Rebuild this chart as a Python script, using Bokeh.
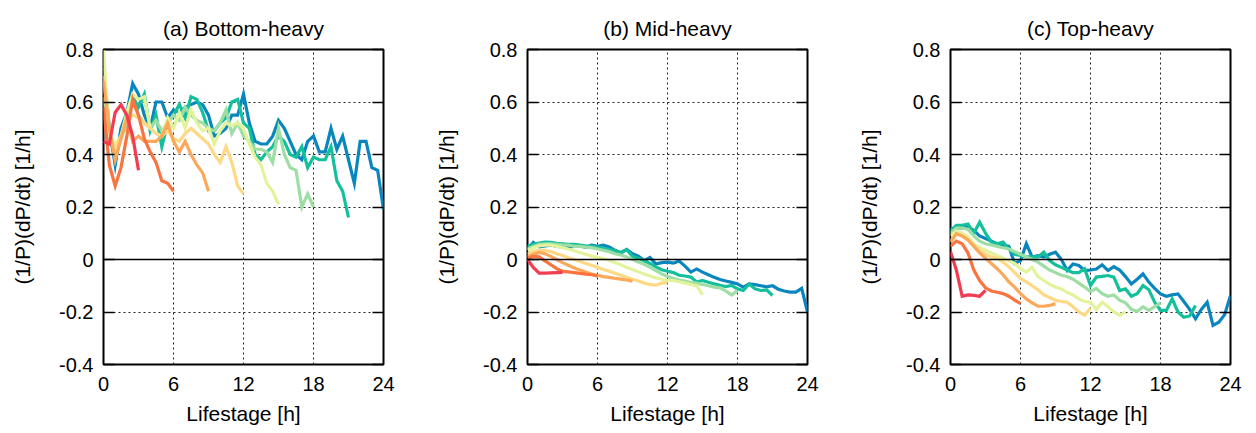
from bokeh.plotting import figure
from bokeh.models import FixedTicker, LinearAxis, Span, Range1d, CustomJSTickFormatter
from bokeh.layouts import row
from bokeh.embed import file_html
from bokeh.resources import INLINE

# ---------------- data ----------------
LIFETIMES = [3, 6, 9, 12, 15, 18, 21, 24]
COLORS = ["#f23c52", "#f97440", "#fca85a", "#fdd985",
          "#e3f39c", "#9edea4", "#14c09c", "#0a86bf"]
STEP_H = 0.5
X_TICKS = [0, 6, 12, 18, 24]
Y_TICKS = [-0.4, -0.2, 0, 0.2, 0.4, 0.6, 0.8]
TITLES = ["(a) Bottom-heavy", "(b) Mid-heavy", "(c) Top-heavy"]
X_LABEL = "Lifestage [h]"
Y_LABEL = "(1/P)(dP/dt) [1/h]"

# (a) Bottom-heavy
a_3 = [0.45, 0.44, 0.56, 0.59, 0.55, 0.47, 0.34]
a_6 = [0.58, 0.36, 0.28, 0.35, 0.47, 0.61, 0.55, 0.46, 0.41, 0.37, 0.30, 0.29, 0.26]
a_9 = [0.68, 0.50, 0.38, 0.46, 0.54, 0.45, 0.47, 0.45, 0.45, 0.45, 0.47, 0.52, 0.45,
       0.41, 0.45, 0.40, 0.36, 0.33, 0.26]
a_12 = [0.70, 0.48, 0.42, 0.47, 0.54, 0.55, 0.54, 0.52, 0.50, 0.48, 0.47, 0.49, 0.46,
        0.45, 0.48, 0.50, 0.48, 0.46, 0.44, 0.40, 0.37, 0.43, 0.37, 0.28, 0.25]
a_15 = [0.80, 0.47, 0.44, 0.47, 0.56, 0.63, 0.61, 0.62, 0.50, 0.48, 0.47, 0.54, 0.50,
        0.56, 0.50, 0.57, 0.52, 0.49, 0.50, 0.44, 0.49, 0.52, 0.51, 0.52, 0.50, 0.44,
        0.39, 0.36, 0.29, 0.26, 0.21]
a_18 = [0.62, 0.46, 0.42, 0.46, 0.52, 0.60, 0.55, 0.52, 0.50, 0.53, 0.49, 0.52, 0.55,
        0.53, 0.58, 0.55, 0.53, 0.52, 0.50, 0.49, 0.52, 0.57, 0.48, 0.52, 0.47, 0.45,
        0.42, 0.42, 0.41, 0.37, 0.50, 0.40, 0.35, 0.34, 0.20, 0.25, 0.20]
a_21 = [0.70, 0.48, 0.38, 0.47, 0.52, 0.62, 0.58, 0.63, 0.49, 0.55, 0.43, 0.52, 0.55,
        0.59, 0.54, 0.62, 0.61, 0.56, 0.49, 0.49, 0.52, 0.54, 0.60, 0.61, 0.52, 0.50,
        0.40, 0.38, 0.41, 0.43, 0.47, 0.45, 0.40, 0.39, 0.43, 0.35, 0.39, 0.38, 0.38,
        0.43, 0.30, 0.26, 0.16]
a_24 = [0.73, 0.50, 0.36, 0.50, 0.56, 0.67, 0.63, 0.55, 0.50, 0.60,
        0.60, 0.54, 0.57, 0.56, 0.58, 0.59, 0.60, 0.59, 0.55, 0.47,
        0.48, 0.50, 0.55, 0.55, 0.63, 0.52, 0.45, 0.44, 0.44, 0.47,
        0.53, 0.50, 0.45, 0.40, 0.38, 0.45, 0.47, 0.41, 0.41, 0.50,
        0.42, 0.47, 0.38, 0.29, 0.45, 0.45, 0.35, 0.34, 0.19]

# (b) Mid-heavy
b_3 = [0.0, -0.03, -0.052, -0.052, -0.051, -0.05, -0.049]
b_6 = [0.005, 0.012, 0.01, -0.005, -0.02, -0.035, -0.045, -0.047, -0.05, -0.053,
       -0.056, -0.058, -0.063]
b_9 = [0.01, 0.02, 0.027, 0.022, 0.012, 0.0, -0.012, -0.022, -0.032, -0.04, -0.048,
       -0.055, -0.06, -0.065, -0.068, -0.072, -0.075, -0.078, -0.083]
b_12 = [0.02, 0.03, 0.035, 0.035, 0.03, 0.022, 0.015, 0.007, 0.0, -0.008, -0.015,
        -0.022, -0.03, -0.038, -0.045, -0.052, -0.06, -0.068, -0.075, -0.082, -0.09,
        -0.095, -0.098, -0.09, -0.088]
b_15 = [0.035, 0.045, 0.052, 0.055, 0.055, 0.05, 0.045, 0.04, 0.033, 0.027,
        0.02, 0.013, 0.008, 0.003, -0.003, -0.012, -0.02, -0.03, -0.038, -0.047,
        -0.055, -0.063, -0.07, -0.075, -0.08, -0.08, -0.085, -0.09, -0.095, -0.10, -0.135]
b_18 = [0.04, 0.05, 0.058, 0.06, 0.06, 0.058, 0.055, 0.055, 0.05, 0.05,
        0.047, 0.045, 0.04, 0.035, 0.03, 0.022, 0.017, 0.01, 0.0, -0.01,
        -0.018, -0.03, -0.042, -0.055, -0.065, -0.072, -0.078, -0.082, -0.088, -0.09,
        -0.095, -0.1, -0.105, -0.108, -0.12, -0.135, -0.118]
b_21 = [0.05, 0.058, 0.063, 0.066, 0.065, 0.062, 0.06, 0.058, 0.058, 0.055,
        0.052, 0.05, 0.047, 0.043, 0.038, 0.033, 0.027, 0.037, 0.012, 0.005,
        -0.005, -0.015, -0.028, -0.039, -0.045, -0.05, -0.06, -0.063, -0.067, -0.086,
        -0.08, -0.087, -0.093, -0.098, -0.103, -0.099, -0.112, -0.118, -0.093, -0.112,
        -0.118, -0.116, -0.137]
b_24 = [0.04, 0.065, 0.048, 0.052, 0.055, 0.05, 0.048, 0.047, 0.05, 0.052,
        0.046, 0.055, 0.05, 0.055, 0.048, 0.035, 0.025, 0.038, 0.022, 0.013,
        -0.004, 0.008, -0.017, -0.012, -0.01, -0.014, -0.006, -0.025, -0.048, -0.036,
        -0.048, -0.058, -0.068, -0.076, -0.082, -0.087, -0.093, -0.105, -0.093, -0.096,
        -0.1, -0.104, -0.1, -0.113, -0.12, -0.124, -0.124, -0.11, -0.2]

# (c) Top-heavy
c_3 = [0.03, -0.04, -0.14, -0.135, -0.137, -0.14, -0.118]
c_6 = [0.05, 0.07, 0.06, 0.025, -0.04, -0.08, -0.108, -0.12, -0.125, -0.13, -0.14,
       -0.155, -0.168]
c_9 = [0.065, 0.098, 0.09, 0.075, 0.05, 0.025, 0.005, -0.015, -0.035, -0.058, -0.085,
       -0.105, -0.13, -0.15, -0.165, -0.178, -0.178, -0.175, -0.168]
c_12 = [0.07, 0.1, 0.09, 0.075, 0.055, 0.035, 0.02, 0.01, 0.005, -0.01, -0.028, -0.05,
        -0.072, -0.085, -0.1, -0.115, -0.135, -0.145, -0.155, -0.16, -0.163, -0.18,
        -0.2, -0.212, -0.185]
c_15 = [0.09, 0.108, 0.1, 0.088, 0.06, 0.045, 0.035, 0.025, 0.015, 0.005,
        -0.005, -0.015, -0.035, -0.048, -0.03, -0.065, -0.08, -0.095, -0.105, -0.112,
        -0.125, -0.135, -0.15, -0.16, -0.163, -0.19, -0.163, -0.18, -0.2, -0.213, -0.2]
c_18 = [0.1, 0.12, 0.12, 0.115, 0.09, 0.07, 0.06, 0.055, 0.05, 0.045,
        0.04, 0.03, 0.02, 0.01, 0.0, -0.01, -0.025, -0.04, -0.05, -0.06,
        -0.065, -0.075, -0.09, -0.105, -0.122, -0.11, -0.13, -0.14, -0.135, -0.155,
        -0.165, -0.19, -0.198, -0.18, -0.194, -0.18, -0.165]
c_21 = [0.11, 0.13, 0.13, 0.135, 0.1, 0.142, 0.1, 0.066, 0.06, 0.066,
        0.04, 0.02, 0.015, 0.01, 0.01, 0.01, 0.028, -0.004, -0.02, -0.03,
        -0.04, -0.05, -0.05, -0.035, -0.099, -0.067, -0.064, -0.061, -0.067, -0.118,
        -0.112, -0.14, -0.13, -0.099, -0.115, -0.163, -0.194, -0.194, -0.15, -0.2,
        -0.22, -0.215, -0.175]
c_24 = [0.115, 0.12, 0.12, 0.125, 0.11, 0.09, 0.08, 0.07, 0.06, 0.055,
        0.05, -0.015, -0.004, 0.06, 0.009, 0.015, 0.009, 0.02, 0.028, 0.0,
        -0.042, -0.017, -0.023, -0.042, -0.04, -0.036, -0.02, -0.042, -0.027, -0.04,
        -0.065, -0.093, -0.075, -0.055, -0.086, -0.11, -0.131, -0.14, -0.135, -0.131,
        -0.16, -0.19, -0.226, -0.19, -0.163, -0.251, -0.239, -0.21, -0.137]

PANELS = [
    [a_3, a_6, a_9, a_12, a_15, a_18, a_21, a_24],
    [b_3, b_6, b_9, b_12, b_15, b_18, b_21, b_24],
    [c_3, c_6, c_9, c_12, c_15, c_18, c_21, c_24],
]

# ---------------- drawing ----------------
FONT = "Liberation Sans"
y_fmt = CustomJSTickFormatter(code="return Math.abs(tick) < 1e-9 ? '0' : tick.toFixed(1);")
x_fmt = CustomJSTickFormatter(code="return tick.toFixed(0);")
blank_fmt = CustomJSTickFormatter(code="return '';")


def make_panel(title, series, width, left, right):
    p = figure(width=width, height=433,
               x_range=Range1d(0, 24), y_range=Range1d(-0.4, 0.8),
               output_backend="svg", toolbar_location=None,
               min_border_left=left, min_border_right=right,
               min_border_top=49, min_border_bottom=69,
               title=title)
    p.title.align = "center"
    p.title.text_font = FONT
    p.title.text_font_size = "21px"
    p.title.text_font_style = "normal"
    p.title.text_color = "black"
    p.title.standoff = 19

    p.outline_line_color = "black"
    p.outline_line_width = 2
    p.outline_line_alpha = 1

    # grid
    p.xgrid.ticker = FixedTicker(ticks=[6, 12, 18])
    p.ygrid.ticker = FixedTicker(ticks=[-0.2, 0.2, 0.4, 0.6])
    for g in (p.xgrid, p.ygrid):
        g.grid_line_color = "#222222"
        g.grid_line_dash = "2 3"
        g.grid_line_width = 1

    # axes
    xa = p.xaxis[0]
    xa.ticker = FixedTicker(ticks=X_TICKS)
    xa.formatter = x_fmt
    xa.axis_line_color = None
    xa.major_tick_in = 0
    xa.major_tick_out = 0
    xa.minor_tick_line_color = None
    xa.major_label_text_font = FONT
    xa.major_label_text_font_size = "20px"
    xa.major_label_text_color = "black"
    xa.major_label_standoff = 12
    xa.axis_label = X_LABEL
    xa.axis_label_text_font = FONT
    xa.axis_label_text_font_size = "21px"
    xa.axis_label_text_font_style = "normal"
    xa.axis_label_text_color = "black"
    xa.axis_label_standoff = 8

    ya = p.yaxis[0]
    ya.ticker = FixedTicker(ticks=Y_TICKS)
    ya.formatter = y_fmt
    ya.axis_line_color = None
    ya.major_tick_in = 11
    ya.major_tick_out = 0
    ya.major_tick_line_color = "black"
    ya.major_tick_line_width = 1.5
    ya.minor_tick_line_color = None
    ya.major_label_text_font = FONT
    ya.major_label_text_font_size = "20px"
    ya.major_label_text_color = "black"
    ya.major_label_standoff = 10
    ya.axis_label = Y_LABEL
    ya.axis_label_text_font = FONT
    ya.axis_label_text_font_size = "21px"
    ya.axis_label_text_font_style = "normal"
    ya.axis_label_text_color = "black"
    ya.axis_label_standoff = 22

    # mirrored inward ticks on the right border (no labels)
    ra = LinearAxis(ticker=FixedTicker(ticks=Y_TICKS), formatter=blank_fmt,
                    major_tick_in=11, major_tick_out=0,
                    major_tick_line_color="black", major_tick_line_width=1.5,
                    minor_tick_line_color=None, axis_line_color=None,
                    major_label_standoff=0)
    p.add_layout(ra, "right")

    p.add_layout(Span(location=0, dimension="width", line_color="black", line_width=1.5))

    for life, vals, color in reversed(list(zip(LIFETIMES, series, COLORS))):
        hours = [i * STEP_H for i in range(len(vals))]
        p.line(hours, vals, line_color=color, line_width=3.2, line_join="miter")
    return p


pa = make_panel(TITLES[0], PANELS[0], 424, 103, 41)
pb = make_panel(TITLES[1], PANELS[1], 424, 103, 41)
pc = make_panel(TITLES[2], PANELS[2], 408, 102, 26)

layout = row(pa, pb, pc)
open("out.html", "w").write(file_html(layout, INLINE))
